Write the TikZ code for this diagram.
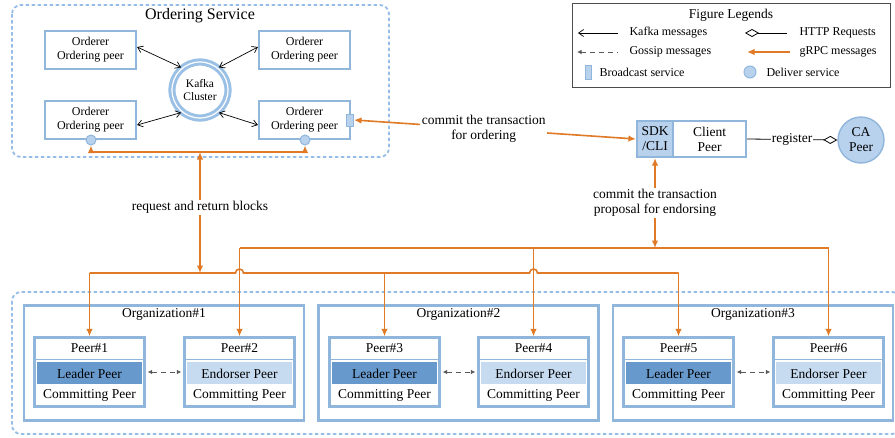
\documentclass[tikz,border=0pt]{standalone}
\usepackage{fontspec}
\setmainfont{Liberation Serif}
\usepackage{xcolor}
\usetikzlibrary{positioning, arrows.meta, calc}
\definecolor{boxblue}{RGB}{145,182,220}
\definecolor{dashblue}{RGB}{150,190,230}
\definecolor{leadblue}{RGB}{104,153,204}
\definecolor{endblue}{RGB}{198,219,240}
\definecolor{fillblue}{RGB}{184,209,236}
\definecolor{ringblue}{RGB}{155,192,230}
\definecolor{grpcorange}{RGB}{224,122,38}
\tikzset{
  otip/.tip={Latex[length=7.5pt,width=6.5pt]},
  gstip/.tip={Latex[length=4.5pt,width=4.5pt]},
  ktip/.tip={Straight Barb[length=5pt,width=7pt]},
  dtip/.tip={Diamond[open,length=14pt,width=8pt]},
  f11/.style={font=\fontsize{11.5}{13}\selectfont},
  f12/.style={font=\fontsize{12}{14}\selectfont},
  f13/.style={font=\fontsize{13.5}{15}\selectfont},
  region/.style={draw=dashblue, line width=1.8pt, dash pattern=on 3.5pt off 2.5pt, rounded corners=9pt},
  orderer/.style={draw=boxblue, line width=2.2pt, fill=white, minimum width=91pt, minimum height=38pt, align=center, f12},
  kafka/.style={circle, draw=ringblue, line width=3pt, double=white, double distance=1.2pt, minimum size=56pt, inner sep=0pt, align=center, f11},
  deliver/.style={circle, draw=boxblue, fill=fillblue, line width=1pt, minimum size=10pt, inner sep=0pt},
  bcast/.style={draw=boxblue, fill=fillblue, line width=1pt, minimum width=7pt, minimum height=12pt, inner sep=0pt},
  orgbox/.style={draw=boxblue, line width=2.2pt, minimum width=280pt, minimum height=115pt},
  peerframe/.style={draw=boxblue, line width=2.2pt, fill=white, minimum width=110pt, minimum height=69pt},
  sdkbox/.style={draw=boxblue, fill=fillblue, line width=2.2pt, minimum width=36pt, minimum height=36pt, inner sep=1pt, align=center, f13},
  clientbox/.style={draw=boxblue, fill=white, line width=2.2pt, minimum width=73pt, minimum height=36pt, inner sep=1pt, align=center, f13},
  capeer/.style={circle, draw=boxblue, fill=fillblue, line width=1.4pt, minimum size=46pt, inner sep=0pt, align=center, f13},
  kafkamsg/.style={line width=0.7pt, ktip-ktip},
  grpc/.style={draw=grpcorange, line width=1.6pt},
  gossip/.style={draw=black!65, line width=1pt, dash pattern=on 5pt off 4pt},
  lbl/.style={fill=white, inner sep=1.5pt, align=center, f13},
}
% one peer: name, x, number, role, band colour
\newcommand{\peerbox}[5]{%
  \node[peerframe] (#1) at (#2,372) {};
  \node[f13] at ($(#1.north)+(0,11.5)$) {Peer\##3};
  \draw[boxblue, line width=1.4pt] ($(#1.north west)+(0,23)$) -- ($(#1.north east)+(0,23)$);
  \fill[#5] ($(#1.north west)+(4,26)$) rectangle ($(#1.north east)+(-4,48)$);
  \node[f13] at ($(#1.north)+(0,37)$) {#4};
  \node[f13] at ($(#1.north)+(0,59)$) {Committing Peer};
}

\begin{document}
\begin{tikzpicture}[x=1pt, y=-1pt]
\useasboundingbox[fill=white] (0,0) rectangle (895,437);

% ordering service
\draw[region] (12,5) rectangle (389,157);
\node[font=\fontsize{16}{18}\selectfont] (ordtitle) at (200,16) {Ordering Service};
\node[orderer] (ord1) at (90.5,50) {Orderer\\Ordering peer};
\node[orderer] (ord2) at (304.5,50) {Orderer\\Ordering peer};
\node[orderer] (ord3) at (90.5,120) {Orderer\\Ordering peer};
\node[orderer] (ord4) at (304.5,120) {Orderer\\Ordering peer};
\node[kafka] (kafka) at (200,90) {Kafka\\Cluster};
\node[deliver] (dl1) at (91,140) {};
\node[deliver] (dl2) at (305,140) {};
\node[bcast] (bc) at (350,120) {};

\draw[kafkamsg] ([yshift=3pt]ord1.east) -- (kafka.130);
\draw[kafkamsg] ([yshift=3pt]ord2.west) -- (kafka.50);
\draw[kafkamsg] ([yshift=-5pt]ord3.east) -- (kafka.230);
\draw[kafkamsg] ([yshift=-5pt]ord4.west) -- (kafka.310);

% client and CA
\node[sdkbox] (sdk) at (655,139) {SDK\\/CLI};
\node[clientbox, right=-2.2pt of sdk] (client) {Client\\Peer};
\node[capeer] (ca) at (861,140) {CA\\Peer};
\draw[line width=0.8pt, -dtip] (client.east) -- node[fill=white, inner sep=1pt, f13] {register} (ca.west);

\draw[grpc, otip-otip] (bc.east) -- node[lbl, pos=0.46] {commit the transaction\\for ordering} (sdk.west);

% organizations
\draw[region] (12,292) rectangle (901,434);
\node[orgbox] (org1) at (164,363) {};
\node[orgbox] (org2) at (458.5,363) {};
\node[orgbox] (org3) at (753,363) {};
\node[f13] at ($(org1.north)+(0,10)$) {Organization\#1};
\node[f13] at ($(org2.north)+(0,10)$) {Organization\#2};
\node[f13] at ($(org3.north)+(0,10)$) {Organization\#3};

\peerbox{p1}{89.5}{1}{Leader Peer}{leadblue}
\peerbox{p2}{239.5}{2}{Endorser Peer}{endblue}
\peerbox{p3}{384.5}{3}{Leader Peer}{leadblue}
\peerbox{p4}{533.5}{4}{Endorser Peer}{endblue}
\peerbox{p5}{678.5}{5}{Leader Peer}{leadblue}
\peerbox{p6}{828.5}{6}{Endorser Peer}{endblue}

\draw[gossip, gstip-gstip, shorten <=2pt, shorten >=2pt] (p1.east) -- (p2.west);
\draw[gossip, gstip-gstip, shorten <=2pt, shorten >=2pt] (p3.east) -- (p4.west);
\draw[gossip, gstip-gstip, shorten <=2pt, shorten >=2pt] (p5.east) -- (p6.west);

% gRPC buses
\coordinate (ordbus) at (200,152);
\coordinate (lowbus) at (200,273);
\coordinate (upbus) at (655,248);

\draw[grpc, otip-otip] (dl1.south) |- (ordbus) -| (dl2.south);
\draw[grpc, otip-otip] (ordbus) -- node[lbl, pos=0.46] {request and return blocks} (lowbus);

\draw[grpc] (p1.north |- lowbus) -- ($(p2.north |- lowbus)+(-4,0)$) arc (180:360:4)
  -- ($(p4.north |- lowbus)+(-4,0)$) arc (180:360:4) -- (p5.north |- lowbus);
\foreach \p in {p1,p3,p5}
  \draw[grpc, -otip] (\p.north |- lowbus) -- (\p.north);

\draw[grpc, otip-otip] (sdk.south) -- node[lbl] {commit the transaction\\proposal for endorsing} (upbus);
\draw[grpc] (p2.north |- upbus) -- (p6.north |- upbus);
\foreach \p in {p2,p4,p6}
  \draw[grpc, -otip] (\p.north |- upbus) -- (\p.north);

% legend
\node[draw=black!70, line width=0.8pt, minimum width=318pt, minimum height=84pt] (legend) at (731,45) {};
\node[f13] (legtitle) at (731,15) {Figure Legends};
\node[f12, anchor=west] (lkafka) at (626,33) {Kafka messages};
\node[f12, anchor=west] (lhttp) at (796,33) {HTTP Requests};
\node[f12, anchor=west] (lgossip) at (626,52) {Gossip messages};
\node[f12, anchor=west] (lgrpc) at (796,52) {gRPC messages};
\node[f12, anchor=west] (lbcast) at (596,72) {Broadcast service};
\node[f12, anchor=west] (ldeliver) at (763,72) {Deliver service};
\draw[line width=0.7pt, ktip-] ([xshift=-48pt]lkafka.west) -- ([xshift=-8pt]lkafka.west);
\draw[line width=0.8pt, dtip-] ([xshift=-51pt]lhttp.west) -- ([xshift=-9pt]lhttp.west);
\draw[gossip, gstip-] ([xshift=-49pt]lgossip.west) -- ([xshift=-8pt]lgossip.west);
\draw[grpc, otip-] ([xshift=-49pt]lgrpc.west) -- ([xshift=-6pt]lgrpc.west);
\node[bcast, minimum height=14pt, minimum width=6pt] (lbc) at ([xshift=-8pt]lbcast.west) {};
\node[deliver, minimum size=12pt] (ldl) at ([xshift=-13pt]ldeliver.west) {};
\end{tikzpicture}
\end{document}
